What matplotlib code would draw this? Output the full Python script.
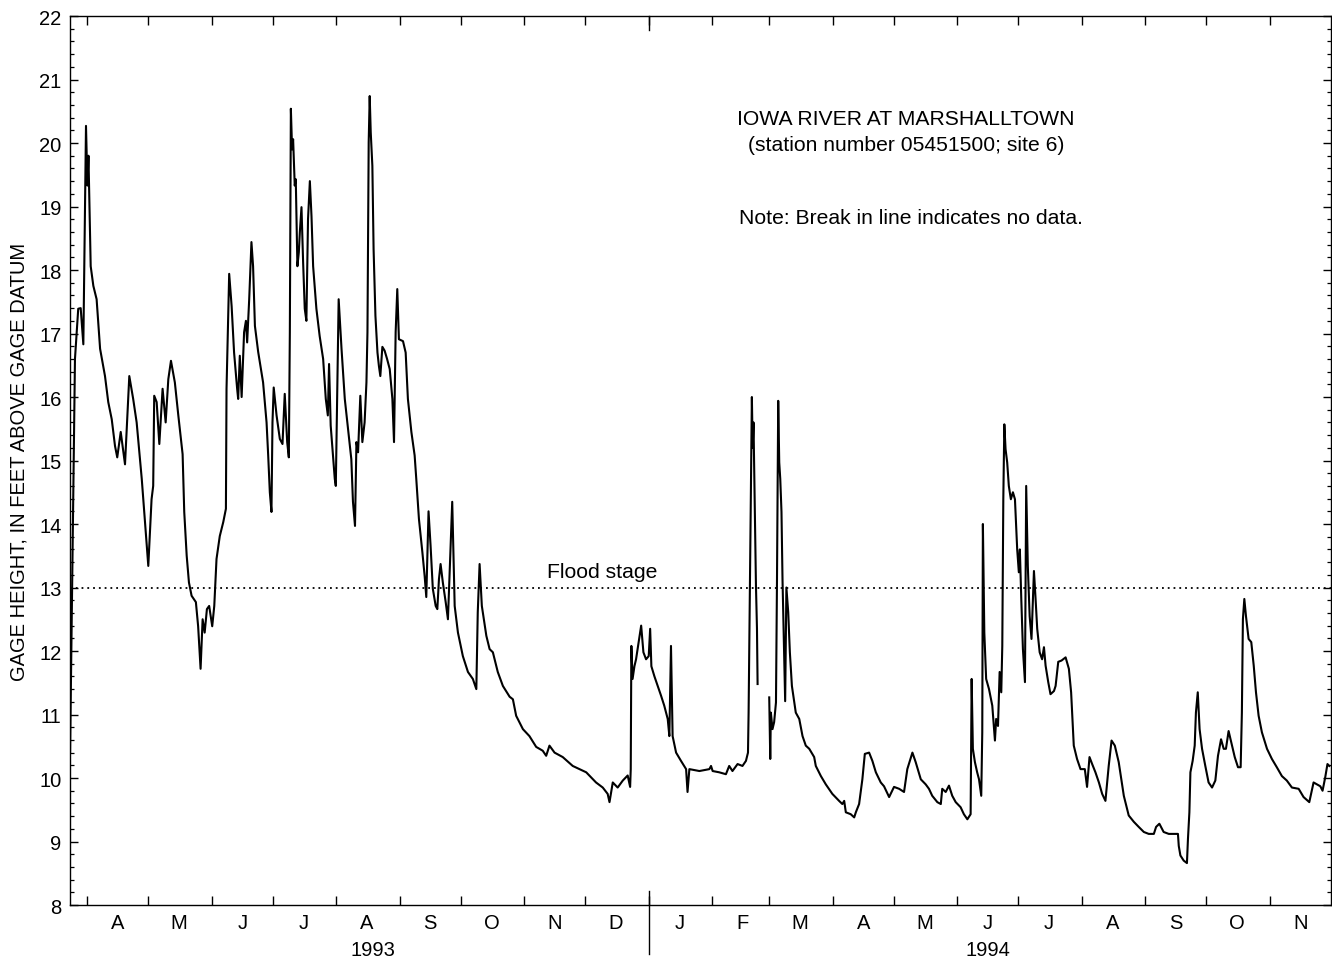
import numpy as np
import matplotlib
matplotlib.use("Agg")
import matplotlib.pyplot as plt
import matplotlib.dates as mdates
import matplotlib.transforms as mtransforms
from matplotlib.ticker import MultipleLocator, FixedLocator, FixedFormatter

plt.rcParams['font.family'] = ['Liberation Sans', 'DejaVu Sans']

ORIGIN = np.datetime64('1993-04-01T00:00')

# ---- gage height (ft) vs days after 1 April 1993 ----
# record up to the late-February 1994 gap
days_a = [-8.3, -5.9, -4.3, -3.1, -1.8, -0.5, 0.2, 0.7, 1.8, 3.1, 4.7, 6.4, 8.8, 10.4, 12.1,
          13.7, 14.8, 16.5, 18.6, 20.7, 22.6, 24.3, 25.6, 26.8, 28.4, 30.0, 31.6, 32.4, 32.9,
          34.1, 35.4, 37.0, 38.5, 39.8, 41.1, 43.0, 44.7, 46.8, 47.6, 48.8, 49.9, 51.2, 53.3,
          54.4, 55.6, 56.6, 57.6, 58.7, 59.8, 61.3, 62.3, 63.4, 65.0, 66.7, 68.0, 68.3, 69.6,
          70.8, 72.0, 73.5, 74.0, 74.8, 75.7, 76.9, 77.8, 78.4, 79.4, 80.5, 81.3, 82.2, 83.8,
          86.2, 87.9, 88.7, 89.5, 90.3, 90.8, 91.4, 92.8, 94.4, 95.7, 96.8, 98.0, 98.8, 99.3,
          99.8, 100.4, 100.9, 101.7, 102.2, 103.0, 103.7, 104.2, 105.0, 105.8, 106.6, 107.4,
          108.2, 109.1, 109.9, 110.7, 112.3, 113.9, 115.6, 116.9, 117.9, 118.5, 119.3, 120.4,
          121.3, 121.8, 123.2, 124.6, 126.2, 127.8, 129.4, 130.2, 131.2, 131.9, 132.7, 133.8,
          134.8, 135.9, 136.8, 137.3, 137.9, 138.4, 138.9, 139.7, 140.3, 141.2, 142.2, 142.9,
          143.6, 144.6, 145.7, 146.9, 148.2, 149.5, 150.3, 151.1, 151.9, 152.7, 154.7, 156.0,
          157.1, 158.8, 160.4, 161.2, 162.5, 164.2, 165.3, 166.1, 167.2, 168.2, 169.3, 170.7,
          171.5, 172.3, 173.1, 174.2, 175.6, 176.7, 178.8, 180.0, 181.6, 184.0, 186.5, 188.9,
          190.6, 191.3, 192.2, 193.3, 195.5, 197.1, 198.7, 201.1, 203.6, 206.9, 208.5, 210.1,
          213.4, 216.6, 219.9, 223.1, 224.8, 226.4, 228.9, 232.9, 237.8, 241.1, 244.4, 249.2,
          252.5, 254.9, 255.8, 257.4, 259.8, 262.3, 264.7, 265.9, 266.2, 266.5, 267.1, 268.0,
          268.8, 270.1, 271.3, 272.4, 273.7, 275.0, 275.7, 276.3, 277.8, 279.4, 281.0, 282.6,
          284.3, 285.1, 285.9, 286.7, 288.4, 290.8, 293.3, 294.0, 294.9, 299.8, 304.7, 305.5,
          306.3, 309.5, 312.8, 314.4, 316.0, 318.5, 320.9, 322.6, 323.6, 323.9, 325.5, 325.9,
          326.3, 326.7, 327.5, 328.0, 328.3]
stage_a = [10.40, 16.60, 17.39, 17.40, 16.83, 20.27, 19.33, 19.80, 18.06, 17.75, 17.54, 16.76,
           16.33, 15.92, 15.65, 15.23, 15.05, 15.45, 14.94, 16.33, 15.97, 15.60, 15.13, 14.71,
           14.03, 13.34, 14.39, 14.60, 16.02, 15.92, 15.26, 16.13, 15.60, 16.28, 16.57, 16.23,
           15.71, 15.10, 14.19, 13.50, 13.08, 12.87, 12.77, 12.39, 11.72, 12.50, 12.29, 12.66,
           12.71, 12.39, 12.71, 13.45, 13.81, 14.03, 14.24, 16.13, 17.94, 17.43, 16.70, 16.13,
           15.97, 16.65, 16.00, 17.02, 17.20, 16.86, 17.54, 18.44, 18.06, 17.12, 16.71, 16.23,
           15.60, 15.08, 14.50, 14.19, 15.60, 16.15, 15.71, 15.34, 15.26, 16.05, 15.29, 15.05,
           17.02, 20.54, 19.90, 20.06, 19.33, 19.43, 18.06, 18.28, 18.60, 18.99, 18.12, 17.39,
           17.20, 18.80, 19.40, 18.85, 18.06, 17.39, 16.96, 16.60, 15.97, 15.71, 16.52, 15.55,
           15.08, 14.71, 14.60, 17.54, 16.76, 15.97, 15.50, 15.02, 14.35, 13.97, 15.29, 15.13,
           16.02, 15.29, 15.60, 16.23, 17.02, 20.01, 20.74, 20.17, 19.64, 18.33, 17.28, 16.70,
           16.49, 16.33, 16.79, 16.73, 16.60, 16.44, 15.97, 15.29, 17.02, 17.70, 16.91, 16.88,
           16.70, 15.97, 15.45, 15.08, 14.71, 14.08, 13.55, 13.18, 12.85, 14.20, 13.66, 12.98,
           12.71, 12.66, 13.13, 13.37, 13.08, 12.77, 12.50, 14.35, 12.71, 12.29, 11.92, 11.67,
           11.56, 11.40, 12.61, 13.37, 12.71, 12.24, 12.03, 11.98, 11.67, 11.45, 11.28, 11.24,
           10.98, 10.77, 10.66, 10.49, 10.43, 10.35, 10.51, 10.40, 10.33, 10.19, 10.14, 10.09,
           9.93, 9.85, 9.75, 9.62, 9.93, 9.85, 9.96, 10.04, 9.86, 10.14, 12.08, 11.56, 11.76,
           11.87, 12.14, 12.40, 11.98, 11.87, 11.92, 12.35, 11.76, 11.60, 11.45, 11.30, 11.14,
           10.93, 10.66, 12.08, 10.66, 10.40, 10.27, 10.14, 9.78, 10.14, 10.11, 10.14, 10.19,
           10.11, 10.09, 10.06, 10.19, 10.11, 10.22, 10.19, 10.27, 10.40, 11.03, 16.00, 15.20,
           15.60, 14.76, 13.03, 12.35, 11.48]
# record after the gap
days_b = [334.0, 334.5, 334.8, 335.6, 336.4, 337.3, 337.8, 338.4, 338.9, 339.4, 340.0, 340.5,
          341.3, 341.8, 342.4, 343.3, 344.1, 345.1, 347.0, 348.7, 350.3, 351.9, 353.6, 356.0,
          356.8, 359.3, 361.7, 364.9, 368.2, 369.8, 370.7, 371.5, 373.9, 375.6, 376.4, 378.0,
          379.6, 380.8, 382.9, 384.5, 386.2, 388.6, 390.2, 392.7, 395.1, 397.6, 400.0, 401.6,
          404.1, 405.7, 408.2, 410.6, 412.2, 413.8, 416.3, 418.0, 418.7, 420.4, 422.0, 423.6,
          425.3, 427.7, 429.3, 431.0, 432.6, 433.1, 433.7, 434.7, 435.8, 436.7, 437.8, 438.3,
          438.6, 439.3, 440.2, 441.6, 443.2, 444.5, 445.1, 446.0, 446.8, 447.6, 448.1, 448.6,
          449.1, 449.7, 450.5, 451.3, 452.3, 453.3, 454.3, 455.4, 456.2, 456.7, 457.4, 458.2,
          459.2, 459.8, 460.6, 461.5, 462.4, 463.6, 464.4, 465.2, 466.4, 467.6, 468.5, 469.3,
          470.6, 471.7, 473.4, 474.2, 475.5, 477.1, 479.1, 480.7, 481.8, 483.1, 484.7, 486.4,
          488.5, 489.6, 490.8, 492.1, 493.7, 495.4, 497.0, 498.6, 500.2, 501.6, 503.2, 505.1,
          507.6, 510.0, 512.5, 514.9, 517.4, 519.8, 522.3, 523.4, 525.0, 527.1, 529.6, 534.1,
          534.5, 535.3, 536.9, 538.5, 539.0, 539.7, 540.2, 541.3, 542.3, 542.9, 543.8, 544.7,
          545.9, 547.5, 549.1, 550.8, 552.4, 553.7, 555.2, 556.5, 557.6, 558.9, 560.2, 561.9,
          563.5, 564.8, 565.4, 565.9, 566.6, 567.4, 568.7, 570.0, 571.2, 572.3, 573.6, 575.2,
          577.7, 580.1, 582.5, 585.0, 587.4, 589.9, 593.2, 595.6, 598.4, 600.5, 602.1, 603.8,
          604.9, 606.2, 607.3, 608.2]
stage_b = [11.27, 10.30, 11.03, 10.77, 10.88, 11.19, 13.13, 15.94, 14.97, 14.71, 14.19, 13.13,
           11.98, 11.21, 13.00, 12.61, 11.98, 11.45, 11.03, 10.93, 10.66, 10.51, 10.46, 10.33,
           10.19, 10.03, 9.90, 9.75, 9.64, 9.59, 9.64, 9.46, 9.43, 9.38, 9.46, 9.59, 9.98, 10.38,
           10.40, 10.27, 10.09, 9.93, 9.87, 9.70, 9.86, 9.83, 9.78, 10.14, 10.40, 10.25, 9.98,
           9.90, 9.83, 9.72, 9.62, 9.59, 9.83, 9.78, 9.88, 9.72, 9.62, 9.54, 9.43, 9.35, 9.43,
           11.56, 10.46, 10.25, 10.09, 9.98, 9.72, 10.72, 14.00, 12.29, 11.56, 11.40, 11.14,
           10.59, 10.93, 10.82, 11.67, 11.35, 12.08, 14.39, 15.57, 15.18, 14.97, 14.60, 14.39,
           14.50, 14.39, 13.60, 13.24, 13.60, 12.82, 12.03, 11.51, 14.60, 13.34, 12.55, 12.19,
           13.26, 12.82, 12.35, 11.98, 11.87, 12.06, 11.77, 11.51, 11.32, 11.37, 11.45, 11.83,
           11.85, 11.90, 11.72, 11.35, 10.51, 10.30, 10.14, 10.14, 9.86, 10.33, 10.22, 10.09,
           9.93, 9.75, 9.64, 10.19, 10.59, 10.51, 10.25, 9.72, 9.41, 9.31, 9.23, 9.15, 9.12,
           9.12, 9.23, 9.28, 9.15, 9.12, 9.12, 8.93, 8.78, 8.70, 8.66, 9.04, 9.46, 10.09, 10.27,
           10.51, 11.03, 11.35, 10.77, 10.46, 10.19, 9.93, 9.85, 9.96, 10.35, 10.61, 10.46,
           10.46, 10.74, 10.56, 10.33, 10.17, 10.17, 11.03, 12.50, 12.82, 12.55, 12.19, 12.14,
           11.77, 11.35, 10.98, 10.72, 10.46, 10.30, 10.17, 10.03, 9.96, 9.85, 9.83, 9.70, 9.62,
           9.93, 9.90, 9.87, 9.80, 10.01, 10.22, 10.19]

FLOOD_STAGE = 13.0
month_labels = ['A', 'M', 'J', 'J', 'A', 'S', 'O', 'N', 'D',
                'J', 'F', 'M', 'A', 'M', 'J', 'J', 'A', 'S', 'O', 'N']
years = ['1993', '1994']
year_days = [140, 441]          # where each year label sits (days after 1 Apr 1993)


def to_dates(d):
    return ORIGIN + np.round(np.asarray(d) * 1440).astype('timedelta64[m]')


FS = 14.5      # tick labels
FT = 15.2      # notes inside the plot
fig = plt.figure(figsize=(13.32, 9.62), dpi=100)
ax = fig.add_axes([0.0526, 0.0582, 0.9466, 0.9241])

ax.plot(to_dates(days_a), stage_a, color='k', lw=1.5)
ax.plot(to_dates(days_b), stage_b, color='k', lw=1.5)
ax.axhline(FLOOD_STAGE, color='k', lw=1.3, ls=(0, (1, 2.2)))

ax.set_xlim(to_dates(-8.3), np.datetime64('1994-12-01T00:00'))
ax.set_ylim(8, 22)

# month boundaries as inward ticks, letters centred on each month
month_starts = np.arange(np.datetime64('1993-04'), np.datetime64('1994-12'),
                         dtype='datetime64[M]').astype('datetime64[m]')
mids = month_starts + np.timedelta64(15 * 1440, 'm')
ax.xaxis.set_major_locator(FixedLocator(mdates.date2num(month_starts)))
ax.xaxis.set_minor_locator(FixedLocator(mdates.date2num(mids)))
ax.xaxis.set_major_formatter(FixedFormatter([''] * len(month_starts)))
ax.xaxis.set_minor_formatter(FixedFormatter(month_labels))
ax.tick_params(axis='x', which='major', direction='in', length=6.5, width=1,
               top=True, bottom=True)
ax.tick_params(axis='x', which='minor', length=0, pad=6, labelsize=FS)

ax.yaxis.set_major_locator(MultipleLocator(1))
ax.yaxis.set_minor_locator(MultipleLocator(0.2))
ax.tick_params(axis='y', which='major', direction='in', length=5.5, width=1,
               left=True, right=True, labelsize=FS, pad=6)
ax.tick_params(axis='y', which='minor', direction='in', length=3, width=0.9,
               left=True, right=True)
ax.set_ylabel('GAGE HEIGHT, IN FEET ABOVE GAGE DATUM', fontsize=FS, labelpad=8)

for s in ax.spines.values():
    s.set_linewidth(1.0)

# year divider at 1 Jan 1994 and year labels
jan94 = np.datetime64('1994-01-01T00:00')
ax.axvline(jan94, ymin=-0.055, ymax=0.016, color='k', lw=1.0, clip_on=False)
ax.axvline(jan94, ymin=0.984, ymax=1.0, color='k', lw=1.0, clip_on=False)
trans = mtransforms.blended_transform_factory(ax.transData, ax.transAxes)
for yl, yd in zip(years, year_days):
    ax.text(to_dates(yd), -0.05, yl, transform=trans, ha='center', va='center', fontsize=FS)

ax.text(to_dates(252), FLOOD_STAGE + 0.1, 'Flood stage', ha='center', va='bottom', fontsize=FT)
ax.text(to_dates(401), 20.38, 'IOWA RIVER AT MARSHALLTOWN', ha='center', va='center', fontsize=FT)
ax.text(to_dates(401), 19.98, '(station number 05451500; site 6)', ha='center', va='center',
        fontsize=FT)
ax.text(to_dates(319.3), 18.82, 'Note: Break in line indicates no data.', ha='left', va='center',
        fontsize=FT)

fig.savefig('out.png', dpi=100)
